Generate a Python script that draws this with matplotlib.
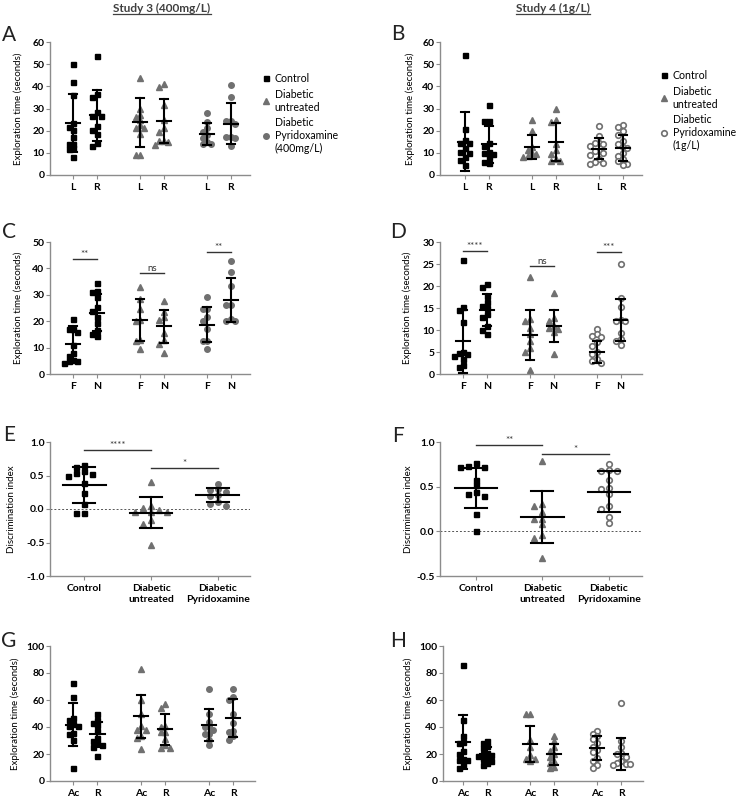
import numpy as np
import matplotlib
matplotlib.use('Agg')
import matplotlib.pyplot as plt
from matplotlib.lines import Line2D

plt.rcParams['font.family'] = ['Lato', 'DejaVu Sans']

W, H = 739, 797

# ---------------- data ----------------
pair_lr = ['L', 'R'] * 3
pair_fn = ['F', 'N'] * 3
pair_acr = ['Ac', 'R'] * 3
group_names = ['Control', 'Diabetic\nuntreated', 'Diabetic\nPyridoxamine']

# A: study 3, L / R
a_vals = [
    [50, 42, 36, 23.5, 21.7, 20.2, 17.2, 14.2, 14.2, 12, 11.7, 8.2],
    [53.5, 36.5, 35, 28.5, 26.5, 26.5, 22.2, 20.3, 18.7, 14.3, 13.3],
    [43.8, 30, 27, 26.3, 24.7, 22.5, 21, 21, 18.7, 8.9, 8.9],
    [41, 39.5, 31.5, 25, 21, 19.5, 15.5, 15.5, 14.8, 13.5],
    [27.8, 23.8, 21, 19.5, 18, 16.5, 15, 13.8, 13.8],
    [40.5, 35, 24.5, 24.5, 23, 17.3, 17, 16.5, 13],
]
a_mean = [23.5, 27, 23.7, 24.5, 18.4, 23.2]
a_sd = [13.2, 11.5, 10.9, 10, 4.9, 9.2]

# B: study 4, L / R
b_vals = [
    [54.2, 20.7, 16, 14.5, 14.5, 12, 10.5, 10, 8.2, 6.7, 4.5],
    [31.8, 24.3, 24.3, 14.5, 13, 10.5, 10, 9.5, 8, 6, 5.5],
    [25, 20, 12.5, 11.5, 10, 9.5, 8.5, 8],
    [30, 25, 24, 14, 11.5, 9.5, 7, 6.5, 6.3],
    [22, 17.8, 14.5, 14.5, 14, 13, 11, 11, 10, 9, 7, 6, 5.5, 5],
    [22.7, 21.7, 20, 18, 15.3, 14, 12.5, 12, 10, 8.5, 7, 6.3, 5, 4.5],
]
b_mean = [15.1, 13.9, 12.6, 15, 11.9, 12.3]
b_sd = [13.1, 8.4, 5.6, 8.5, 4.9, 5.9]

# C: study 3, F / N
c_vals = [
    [21, 17, 17, 15.8, 11, 8, 7, 5.4, 4.8, 4.8, 4.2],
    [34.5, 31.5, 31, 29, 25.5, 24, 21.5, 19.5, 16.5, 15, 14.5],
    [33, 28.5, 24.5, 20.5, 20, 13, 12.5, 9.5],
    [27.5, 23.5, 21.5, 20.5, 15.5, 13, 11.5, 8],
    [29, 24.5, 24.5, 21.5, 20, 17, 12.5, 12.5, 9.5],
    [42.8, 38.5, 33.5, 26, 26, 21, 20, 20],
]
c_mean = [11.3, 23.2, 20.5, 18, 18.7, 28]
c_sd = [6.7, 7, 7.9, 6.3, 6.5, 8.3]

# D: study 4, F / N
d_vals = [
    [26, 15.2, 14.5, 11.8, 5, 4.8, 4.5, 4, 3.5, 2, 1.5],
    [20.5, 19.8, 17.8, 16.3, 15.5, 15, 13.7, 13, 11, 10, 9],
    [22, 12.5, 12, 10.5, 9, 7.5, 6, 5, 1],
    [18.3, 12.8, 12, 11, 10.5, 10.3, 9.5, 4.5],
    [10.2, 9, 8.7, 8.5, 7.3, 6.3, 5, 4.5, 3.5, 3, 2.5],
    [25, 17.3, 15.3, 12.3, 12, 12, 9.3, 8, 7.5, 6.5],
]
d_mean = [7.4, 14.5, 8.8, 10.9, 5.0, 12.2]
d_sd = [7.1, 3.7, 5.7, 3.6, 2.6, 4.8]

# E: study 3 discrimination index
e_vals = [
    [0.65, 0.62, 0.56, 0.53, 0.52, 0.5, 0.39, 0.24, 0.07, -0.06, -0.06],
    [0.41, 0.04, 0.02, -0.02, -0.04, -0.04, -0.04, -0.17, -0.22, -0.53],
    [0.37, 0.3, 0.28, 0.26, 0.21, 0.2, 0.1, 0.07, 0.04],
]
e_mean = [0.36, -0.055, 0.21]
e_sd = [0.27, 0.235, 0.11]

# F: study 4 discrimination index
f_vals = [
    [0.76, 0.73, 0.72, 0.72, 0.58, 0.52, 0.44, 0.42, 0.39, 0.19, 0.0],
    [0.79, 0.31, 0.28, 0.22, 0.14, 0.14, 0.08, -0.04, -0.08, -0.3],
    [0.75, 0.69, 0.68, 0.67, 0.58, 0.49, 0.47, 0.42, 0.28, 0.25, 0.16, 0.09],
]
f_mean = [0.485, 0.16, 0.445]
f_sd = [0.225, 0.29, 0.225]

# G: study 3, Ac / R
g_vals = [
    [72.5, 62, 47, 45.5, 42.5, 41, 41, 35.5, 34.5, 30.5, 10],
    [50, 45.5, 43, 41.5, 37, 32, 30, 28, 27, 25.5, 18.5],
    [83, 60, 49.5, 40.5, 38, 37.5, 33, 32, 24],
    [57, 54, 40.5, 40, 36.5, 36, 31, 27, 24.5, 24.5],
    [68.5, 50, 44, 40.5, 40, 37.5, 35, 34.5, 30.5, 27],
    [68, 62, 60, 50, 43, 37, 36.5, 33, 30.5],
]
g_mean = [41.8, 34.6, 48, 38.4, 41.5, 46.7]
g_sd = [16.2, 9.1, 16, 11.4, 12, 13.9]

# H: study 4, Ac / R
h_vals = [
    [86, 45, 33.5, 29, 28, 22.5, 20, 16, 15.5, 15.5, 12, 10],
    [30, 28, 26, 24.5, 21, 20, 19, 18.5, 17.5, 16.5, 15, 13, 12],
    [50, 50, 30.5, 25, 19, 16.5, 16.5, 15],
    [33.5, 29.5, 25, 22, 20, 17.5, 15, 13.5, 10.5, 9.5],
    [37, 35, 33, 31, 28, 25, 23, 21.5, 17, 15, 12, 9.5],
    [58, 30, 25, 21, 20, 18, 15, 13, 12.5, 12, 12.5],
]
h_mean = [29, 20, 27.6, 19.7, 24.3, 20.2]
h_sd = [20.2, 5.5, 13.4, 7.8, 9, 11.8]

# ---------------- styles ----------------
GREY = '#707070'
AXIS = '#8c8c8c'
ctrl_st = dict(marker='s', color='black', ms=3.6)
untr_st = dict(marker='^', color=GREY, ms=3.8)
pyr3_st = dict(marker='o', color=GREY, ms=4.0)
pyr4_st = dict(marker='o', markerfacecolor='white', markeredgecolor=GREY, mew=1.2, ms=4.0)

pair_x = [0, 1, 2.8, 3.8, 5.6, 6.6]
three_x = [0, 1, 2]

fig = plt.figure(figsize=(W / 100, H / 100), dpi=100)


def rect(l, t, r, b):
    return [l / W, 1 - b / H, (r - l) / W, (b - t) / H]


def swarm(vals, px_y, step, size):
    # simple centre-out beeswarm in pixel space
    placed, offs = [], []
    cands = [0]
    for i in range(1, 15):
        cands += [-i * step, i * step]
    for v in vals:
        y = v * px_y
        for c in cands:
            if all(abs(c - px) >= step * 0.95 or abs(y - py) >= size for px, py in placed):
                break
        placed.append((c, y))
        offs.append(c)
    return np.array(offs)


def panel(box, xpos, groups, means, sds, styles, xlim, ylim, yticks, yticklabels,
          xlabels, ylabel, label_px, step, mean_hw, cap_hw):
    ax = fig.add_axes(rect(*box))
    ax.set_xlim(xlim)
    ax.set_ylim(ylim)
    px_x = (box[2] - box[0]) / (xlim[1] - xlim[0])
    px_y = (box[3] - box[1]) / (ylim[1] - ylim[0])
    for x, vals, st, m, s in zip(xpos, groups, styles, means, sds):
        offs = swarm(vals, px_y, step, 4.6)
        ax.plot(x + offs / px_x, vals, ls='none', zorder=2, **st)
        ax.plot([x - mean_hw, x + mean_hw], [m, m], color='black', lw=1.5, zorder=3)
        ax.plot([x, x], [m - s, m + s], color='black', lw=1.5, zorder=3)
        for yy in (m - s, m + s):
            ax.plot([x - cap_hw, x + cap_hw], [yy, yy], color='black', lw=1.5, zorder=3)
    for sp in ['top', 'right']:
        ax.spines[sp].set_visible(False)
    for sp in ['left', 'bottom']:
        ax.spines[sp].set_color(AXIS)
        ax.spines[sp].set_linewidth(1.0)
    ax.set_yticks(yticks)
    ax.set_yticklabels(yticklabels)
    ax.set_xticks(xpos)
    ax.set_xticklabels(xlabels)
    ax.tick_params(axis='both', colors=AXIS, labelcolor='black', length=3, width=0.8,
                   labelsize=7.5)
    ax.tick_params(axis='y', pad=1)
    ax.tick_params(axis='x', pad=3)
    for t in ax.get_xticklabels() + ax.get_yticklabels():
        t.set_fontweight('bold')
    ax.set_ylabel(ylabel, fontsize=7)
    ax.yaxis.set_label_coords((label_px - box[0]) / (box[2] - box[0]), 0.5)
    return ax


def sig(ax, x0, x1, y, txt, size=7):
    ax.plot([x0, x1], [y, y], color='#333333', lw=1.0)
    ax.text((x0 + x1) / 2, y, txt, ha='center', va='bottom', fontsize=size, color='#333333')


st3 = [ctrl_st, ctrl_st, untr_st, untr_st, pyr3_st, pyr3_st]
st4 = [ctrl_st, ctrl_st, untr_st, untr_st, pyr4_st, pyr4_st]
ylab = 'Exploration time (seconds)'
ten = [str(v) for v in range(0, 70, 10)]

axA = panel((50, 42, 250, 175), pair_x, a_vals, a_mean, a_sd, st3, (-0.96, 7.4), (0, 60),
            range(0, 70, 10), ten, pair_lr, ylab, 23, 4.4, 0.29, 0.17)
axB = panel((440, 42, 642, 175), pair_x, b_vals, b_mean, b_sd, st4, (-1.04, 7.4), (0, 60),
            range(0, 70, 10), ten, pair_lr, ylab, 415, 4.4, 0.29, 0.17)
axC = panel((50, 242, 250, 374), pair_x, c_vals, c_mean, c_sd, st3, (-0.96, 7.4), (0, 50),
            range(0, 60, 10), ten[:6], pair_fn, ylab, 23, 4.4, 0.29, 0.17)
axD = panel((440, 242, 642, 374), pair_x, d_vals, d_mean, d_sd, st4, (-0.96, 7.5), (0, 30),
            range(0, 35, 5), [str(v) for v in range(0, 35, 5)], pair_fn, ylab, 412, 4.4, 0.29, 0.17)
axE = panel((50, 442, 250, 576), three_x, e_vals, e_mean, e_sd, st3[::2], (-0.51, 2.48), (-1, 1),
            [-1, -0.5, 0, 0.5, 1], ['-1.0', '-0.5', '0.0', '0.5', '1.0'], group_names,
            'Discrimination index', 16, 8, 0.32, 0.165)
axF = panel((440, 442, 642, 576), three_x, f_vals, f_mean, f_sd, st4[::2], (-0.54, 2.5), (-0.5, 1),
            [-0.5, 0, 0.5, 1], ['-0.5', '0.0', '0.5', '1.0'], group_names,
            'Discrimination index', 413, 8, 0.32, 0.165)
axG = panel((50, 646, 255, 781), pair_x, g_vals, g_mean, g_sd, st3, (-0.96, 7.5), (0, 100),
            range(0, 120, 20), [str(v) for v in range(0, 120, 20)], pair_acr, ylab, 20, 4.4, 0.29, 0.17)
axH = panel((443, 646, 643, 781), pair_x, h_vals, h_mean, h_sd, st4, (-0.83, 7.5), (0, 100),
            range(0, 120, 20), [str(v) for v in range(0, 120, 20)], pair_acr, ylab, 413, 4.4, 0.29, 0.17)

for ax in (axE, axF):
    ax.axhline(0, color='#555555', lw=0.7, ls=(0, (2, 2)), zorder=1)

# significance bars
sig(axC, 0, 1, 43.7, '**')
sig(axC, 2.8, 3.8, 38.1, 'ns')
sig(axC, 5.6, 6.6, 46.3, '**')
sig(axD, 0, 1, 27.9, '****')
sig(axD, 2.8, 3.8, 24.5, 'ns')
sig(axD, 5.6, 6.6, 27.8, '***')
sig(axE, 0, 1, 0.88, '****')
sig(axE, 1, 2, 0.61, '*')
sig(axF, 0, 1, 0.97, '**')
sig(axF, 1, 2, 0.87, '*')

# legends
def legend(ax, pyr_style, pyr_label, left, top):
    handles = [Line2D([], [], ls='none', **ctrl_st),
               Line2D([], [], ls='none', **untr_st),
               Line2D([], [], ls='none', **pyr_style)]
    labels = ['Control', 'Diabetic\nuntreated', pyr_label]
    ax.legend(handles, labels, loc='upper left', bbox_to_anchor=(left / W, 1 - top / H),
              bbox_transform=fig.transFigure, frameon=False, fontsize=7.6,
              handlelength=0.8, handletextpad=0.4, labelspacing=0.45,
              borderpad=0, borderaxespad=0)


legend(axA, pyr3_st, 'Diabetic\nPyridoxamine\n(400mg/L)', 262, 73)
legend(axB, pyr4_st, 'Diabetic\nPyridoxamine\n(1g/L)', 660, 70)

# panel letters
for letter, (x, y) in zip('ABCDEFGH', [(9, 35), (398, 34), (9, 232), (398, 232),
                                        (9, 435), (398, 436), (9, 641), (398, 641)]):
    fig.text(x / W, 1 - y / H, letter, fontsize=15, ha='center', va='center', color='#222222')

# column titles, underlined
titles = []
for txt, xc in [('Study 3 (400mg/L)', 162), ('Study 4 (1g/L)', 553)]:
    titles.append(fig.text(xc / W, 1 - 8 / H, txt, fontsize=8.5, fontweight='bold',
                           ha='center', va='center', color='#404040'))
fig.canvas.draw()
r = fig.canvas.get_renderer()
for t in titles:
    bb = t.get_window_extent(r)
    yline = bb.y0 - 0.5
    fig.add_artist(Line2D([bb.x0 / W, bb.x1 / W], [yline / H, yline / H],
                          transform=fig.transFigure, color='#404040', lw=0.9))

fig.savefig('out.png', dpi=100)
